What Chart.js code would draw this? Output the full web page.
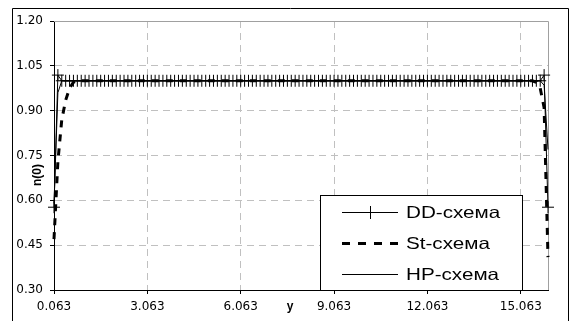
<!DOCTYPE html>
<html>
<head>
<meta charset="utf-8">
<script src="https://cdn.jsdelivr.net/npm/chart.js@4/dist/chart.umd.min.js"></script>
<style>
  html, body { margin: 0; padding: 0; background: #fff; }
  #wrap { width: 572px; height: 321px; }
</style>
</head>
<body>
<div id="wrap"><canvas id="grafico" width="572" height="321"></canvas></div>
<script>
// grid points y
const xs = [
  0.0625, 0.1875, 0.3125, 0.4375, 0.5625, 0.6875, 0.8125, 0.9375,
  1.0625, 1.1875, 1.3125, 1.4375, 1.5625, 1.6875, 1.8125, 1.9375,
  2.0625, 2.1875, 2.3125, 2.4375, 2.5625, 2.6875, 2.8125, 2.9375,
  3.0625, 3.1875, 3.3125, 3.4375, 3.5625, 3.6875, 3.8125, 3.9375,
  4.0625, 4.1875, 4.3125, 4.4375, 4.5625, 4.6875, 4.8125, 4.9375,
  5.0625, 5.1875, 5.3125, 5.4375, 5.5625, 5.6875, 5.8125, 5.9375,
  6.0625, 6.1875, 6.3125, 6.4375, 6.5625, 6.6875, 6.8125, 6.9375,
  7.0625, 7.1875, 7.3125, 7.4375, 7.5625, 7.6875, 7.8125, 7.9375,
  8.0625, 8.1875, 8.3125, 8.4375, 8.5625, 8.6875, 8.8125, 8.9375,
  9.0625, 9.1875, 9.3125, 9.4375, 9.5625, 9.6875, 9.8125, 9.9375,
  10.0625, 10.1875, 10.3125, 10.4375, 10.5625, 10.6875, 10.8125, 10.9375,
  11.0625, 11.1875, 11.3125, 11.4375, 11.5625, 11.6875, 11.8125, 11.9375,
  12.0625, 12.1875, 12.3125, 12.4375, 12.5625, 12.6875, 12.8125, 12.9375,
  13.0625, 13.1875, 13.3125, 13.4375, 13.5625, 13.6875, 13.8125, 13.9375,
  14.0625, 14.1875, 14.3125, 14.4375, 14.5625, 14.6875, 14.8125, 14.9375,
  15.0625, 15.1875, 15.3125, 15.4375, 15.5625, 15.6875, 15.8125, 15.9375
];

const xTicks = [0.0625, 3.0625, 6.0625, 9.0625, 12.0625, 15.0625];
const yTicks = [0.30, 0.45, 0.60, 0.75, 0.90, 1.05, 1.20];

const nomes = ['DD-схема', 'St-схема', 'HP-схема'];

// n(0) for DD-схема
const ddVals = [
  0.577, 1.019, 1, 1, 1, 1, 1, 1,
  1, 1, 1, 1, 1, 1, 1, 1,
  1, 1, 1, 1, 1, 1, 1, 1,
  1, 1, 1, 1, 1, 1, 1, 1,
  1, 1, 1, 1, 1, 1, 1, 1,
  1, 1, 1, 1, 1, 1, 1, 1,
  1, 1, 1, 1, 1, 1, 1, 1,
  1, 1, 1, 1, 1, 1, 1, 1,
  1, 1, 1, 1, 1, 1, 1, 1,
  1, 1, 1, 1, 1, 1, 1, 1,
  1, 1, 1, 1, 1, 1, 1, 1,
  1, 1, 1, 1, 1, 1, 1, 1,
  1, 1, 1, 1, 1, 1, 1, 1,
  1, 1, 1, 1, 1, 1, 1, 1,
  1, 1, 1, 1, 1, 1, 1, 1,
  1, 1, 1, 1, 1, 1, 1.019, 0.577
];

// n(0) for St-схема
const stVals = [
  0.47, 0.73, 0.87, 0.935, 0.975, 0.995, 1, 1,
  1, 1, 1, 1, 1, 1, 1, 1,
  1, 1, 1, 1, 1, 1, 1, 1,
  1, 1, 1, 1, 1, 1, 1, 1,
  1, 1, 1, 1, 1, 1, 1, 1,
  1, 1, 1, 1, 1, 1, 1, 1,
  1, 1, 1, 1, 1, 1, 1, 1,
  1, 1, 1, 1, 1, 1, 1, 1,
  1, 1, 1, 1, 1, 1, 1, 1,
  1, 1, 1, 1, 1, 1, 1, 1,
  1, 1, 1, 1, 1, 1, 1, 1,
  1, 1, 1, 1, 1, 1, 1, 1,
  1, 1, 1, 1, 1, 1, 1, 1,
  1, 1, 1, 1, 1, 1, 1, 1,
  1, 1, 1, 1, 1, 1, 1, 1,
  1, 1, 1, 1, 0.995, 0.975, 0.91, 0.41
];

// n(0) for HP-схема
const hpVals = [
  0.59, 0.96, 1, 1, 1, 1, 1, 1,
  1, 1, 1, 1, 1, 1, 1, 1,
  1, 1, 1, 1, 1, 1, 1, 1,
  1, 1, 1, 1, 1, 1, 1, 1,
  1, 1, 1, 1, 1, 1, 1, 1,
  1, 1, 1, 1, 1, 1, 1, 1,
  1, 1, 1, 1, 1, 1, 1, 1,
  1, 1, 1, 1, 1, 1, 1, 1,
  1, 1, 1, 1, 1, 1, 1, 1,
  1, 1, 1, 1, 1, 1, 1, 1,
  1, 1, 1, 1, 1, 1, 1, 1,
  1, 1, 1, 1, 1, 1, 1, 1,
  1, 1, 1, 1, 1, 1, 1, 1,
  1, 1, 1, 1, 1, 1, 1, 1,
  1, 1, 1, 1, 1, 1, 1, 1,
  1, 1, 1, 1, 1, 1, 0.985, 0.77
];

function pontos(vals) {
  return xs.map((x, i) => ({ x: x, y: vals[i] }));
}

Chart.defaults.color = '#000';
Chart.defaults.font.family = '"DejaVu Sans", Arial, sans-serif';
Chart.defaults.font.size = 12;

// frame, top/right plot edges, legend and axis titles
const extras = {
  id: 'extras',
  beforeDatasetsDraw(chart) {
    const { ctx, chartArea: a } = chart;
    ctx.save();
    ctx.strokeStyle = '#a0a0a0';
    ctx.lineWidth = 1;
    ctx.beginPath();
    ctx.moveTo(a.left, a.top + 0.5);
    ctx.lineTo(a.right + 0.5, a.top + 0.5);
    ctx.lineTo(a.right + 0.5, a.bottom);
    ctx.stroke();
    ctx.restore();
  },
  afterDraw(chart) {
    const ctx = chart.ctx;
    ctx.save();
    // outer frame (bottom edge falls outside the picture)
    ctx.strokeStyle = '#000';
    ctx.lineWidth = 1;
    ctx.beginPath();
    ctx.moveTo(12.5, 321);
    ctx.lineTo(12.5, 8.5);
    ctx.lineTo(568.5, 8.5);
    ctx.lineTo(568.5, 321);
    ctx.stroke();

    // legend
    ctx.fillStyle = '#fff';
    ctx.fillRect(320.5, 195.5, 202, 95);
    ctx.strokeRect(320.5, 195.5, 202, 95);
    const linhas = [212, 243, 274];
    linhas.forEach((ly, i) => {
      ctx.save();
      ctx.strokeStyle = '#000';
      if (i === 1) {
        ctx.lineWidth = 3;
        ctx.setLineDash([8, 8]);
      } else {
        ctx.lineWidth = 1;
      }
      ctx.beginPath();
      ctx.moveTo(342, ly + 0.5);
      ctx.lineTo(398, ly + 0.5);
      ctx.stroke();
      if (i === 0) {
        ctx.beginPath();
        ctx.moveTo(370.5, ly - 6);
        ctx.lineTo(370.5, ly + 7);
        ctx.stroke();
      }
      ctx.restore();
      ctx.save();
      ctx.translate(406, ly + 1);
      ctx.scale(1.25, 1);
      ctx.fillStyle = '#000';
      ctx.font = '16.5px "Liberation Sans", Arial, sans-serif';
      ctx.textBaseline = 'middle';
      ctx.fillText(nomes[i], 0, 0);
      ctx.restore();
    });

    // axis titles
    ctx.fillStyle = '#000';
    ctx.font = 'bold 12px "Liberation Sans", Arial, sans-serif';
    ctx.textAlign = 'center';
    ctx.textBaseline = 'alphabetic';
    ctx.fillText('y', 290, 310);
    ctx.save();
    ctx.translate(41, 175);
    ctx.rotate(-Math.PI / 2);
    ctx.fillText('n(0)', 0, 0);
    ctx.restore();
    ctx.restore();
  }
};

const grafico = new Chart(document.getElementById('grafico'), {
  type: 'line',
  data: {
    datasets: [
      {
        label: nomes[0],
        data: pontos(ddVals),
        borderColor: '#000',
        borderWidth: 1,
        pointStyle: 'cross',
        pointRadius: 6,
        pointBorderColor: '#000',
        pointBorderWidth: 1,
        tension: 0,
        clip: false
      },
      {
        label: nomes[1],
        data: pontos(stVals),
        borderColor: '#000',
        borderWidth: 3,
        borderDash: [7, 7],
        pointRadius: 0,
        tension: 0,
        clip: false
      },
      {
        label: nomes[2],
        data: pontos(hpVals),
        borderColor: '#000',
        borderWidth: 1,
        pointRadius: 0,
        tension: 0,
        clip: false
      }
    ]
  },
  options: {
    responsive: false,
    animation: false,
    devicePixelRatio: 1,
    layout: { padding: { left: 0, top: 21, right: 24, bottom: 0 } },
    plugins: {
      legend: { display: false },
      tooltip: { enabled: false }
    },
    scales: {
      x: {
        type: 'linear',
        min: 0.0625,
        max: 15.9375,
        afterBuildTicks: (scale) => { scale.ticks = xTicks.map(v => ({ value: v })); },
        afterFit: (scale) => { scale.height = 31; },
        ticks: {
          autoSkip: false,
          maxRotation: 0,
          padding: 6,
          callback: (v) => Number(v).toFixed(3)
        },
        grid: { color: '#c0c0c0', tickColor: '#000', tickLength: 4, tickBorderDash: [] },
        border: { color: '#000', width: 1, dash: [7, 5] }
      },
      y: {
        min: 0.3,
        max: 1.2,
        afterBuildTicks: (scale) => { scale.ticks = yTicks.map(v => ({ value: v })); },
        afterFit: (scale) => { scale.width = 54; },
        ticks: {
          padding: 7,
          callback: (v) => Number(v).toFixed(2)
        },
        grid: { color: '#c0c0c0', tickColor: '#000', tickLength: 4, tickBorderDash: [] },
        border: { color: '#000', width: 1, dash: [7, 5] }
      }
    }
  },
  plugins: [extras]
});
</script>
</body>
</html>
